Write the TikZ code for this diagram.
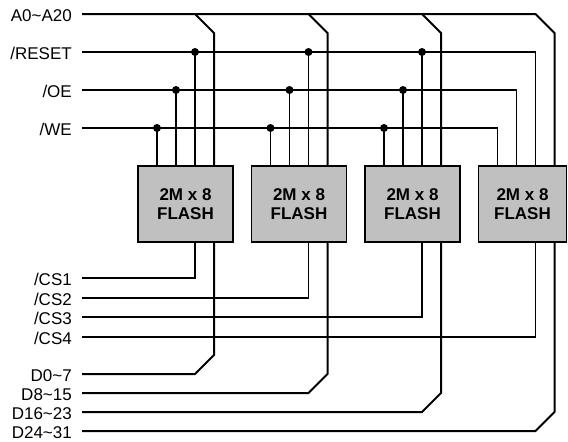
\documentclass[tikz,border=0pt]{standalone}
\usepackage{fontspec}
\setmainfont{Liberation Sans}
\definecolor{chipgray}{RGB}{192,192,192}

\begin{document}
\begin{tikzpicture}[x=1pt,y=-1pt,
    sig/.style={line width=1.3pt},
    bus/.style={line width=2pt},
    chip/.style={draw, line width=1.9pt, fill=chipgray, outer sep=0pt, inner sep=0pt,
                 minimum width=95pt, minimum height=76pt, align=center,
                 font=\bfseries\fontsize{17}{18.5}\selectfont},
    pin/.style={anchor=east, inner xsep=10pt, inner ysep=0pt, text height=15pt, text depth=0pt,
                font=\fontsize{17}{18}\selectfont}]
    \useasboundingbox (0,0) rectangle (568,442);

    % the four flash chips
    \foreach \i/\x in {1/185.5, 2/299, 3/412.5}
        \node[chip] (f\i) at (\x,204) {2M x 8\\FLASH};
    \node[chip, minimum width=88pt] (f4) at (522.5,204) {2M x 8\\FLASH};

    % pin columns of each chip
    \foreach \i in {1,...,4} {
        \path (f\i.north west) ++(19,0) coordinate (wt\i) ++(19,0) coordinate (ot\i)
              ++(19,0) coordinate (rt\i) ++(19,0) coordinate (at\i);
        \path (f\i.south west) ++(57,0) coordinate (cb\i) ++(19,0) coordinate (db\i);
    }

    % signal names
    \node[pin] (addr) at (82,14)  {A0\textasciitilde A20};
    \node[pin] (rst)  at (82,52)  {/RESET};
    \node[pin] (oe)   at (82,90)  {/OE};
    \node[pin] (we)   at (82,128) {/WE};
    \foreach \i/\y in {1/278, 2/298, 3/317, 4/337}
        \node[pin] (cs\i) at (82,\y) {/CS\i};
    \node[pin] (d1) at (82,374) {D0\textasciitilde 7};
    \node[pin] (d2) at (82,393) {D8\textasciitilde 15};
    \node[pin] (d3) at (82,412) {D16\textasciitilde 23};
    \node[pin] (d4) at (82,431) {D24\textasciitilde 31};

    % address bus
    \draw[bus] (addr.east) -- (addr.east -| rt4) -- ++(19,19) -- (at4);
    \foreach \i in {1,2,3}
        \draw[bus] (addr.east -| rt\i) -- ++(19,19) -- (at\i);

    % control lines
    \draw[sig] (rst.east) -- (rst.east -| rt4) -- (rt4);
    \draw[sig] (oe.east) -- (oe.east -| ot4) -- (ot4);
    \draw[sig] (we.east) -- (we.east -| wt4) -- (wt4);
    \foreach \i in {1,2,3} {
        \draw[sig] (rst.east -| rt\i) -- (rt\i);
        \draw[sig] (oe.east -| ot\i) -- (ot\i);
        \draw[sig] (we.east -| wt\i) -- (wt\i);
        \fill (rst.east -| rt\i) circle (4pt);
        \fill (oe.east -| ot\i) circle (4pt);
        \fill (we.east -| wt\i) circle (4pt);
    }

    % chip selects and data buses
    \foreach \i in {1,...,4} {
        \draw[sig] (cs\i.east) -- (cs\i.east -| cb\i) -- (cb\i);
        \draw[bus] (d\i.east) -- (d\i.east -| cb\i) -- ++(19,-19) -- (db\i);
    }
\end{tikzpicture}
\end{document}
